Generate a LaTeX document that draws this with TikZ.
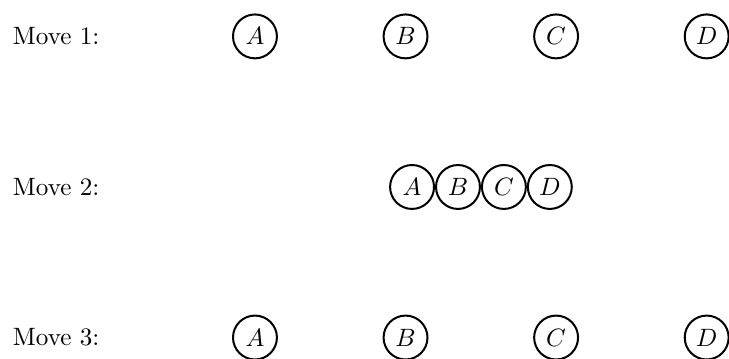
\documentclass[tikz,border=0pt]{standalone}
\usepackage{tikz}
\usetikzlibrary{positioning}
\tikzset{
  ball/.style={circle,draw,thick,minimum size=17.5pt,inner sep=1pt},
  movelbl/.style={anchor=west,inner sep=3.33pt},
}
\begin{document}
\begin{tikzpicture}
  \useasboundingbox (-101.6pt,14.5pt) rectangle (188.9pt,-128.2pt);
  % move 1: spread out
  \node[movelbl] (move1) at (-100pt,0pt) {Move 1:};
  \node[ball] (a1) at (0pt,0pt) {$A$};
  \node[ball] (b1) at (60pt,0pt) {$B$};
  \node[ball] (c1) at (120pt,0pt) {$C$};
  \node[ball] (d1) at (180pt,0pt) {$D$};
  % move 2: all together
  \node[movelbl] (move2) at (-100pt,-60pt) {Move 2:};
  \node[ball] (a2) at (62.6pt,-60pt) {$A$};
  \node[ball,right=0pt of a2] (b2) {$B$};
  \node[ball,right=0pt of b2] (c2) {$C$};
  \node[ball,right=0pt of c2] (d2) {$D$};
  % move 3: spread out again
  \node[movelbl] (move3) at (-100pt,-120pt) {Move 3:};
  \node[ball] (a3) at (0pt,-120pt) {$A$};
  \node[ball] (b3) at (60pt,-120pt) {$B$};
  \node[ball] (c3) at (120pt,-120pt) {$C$};
  \node[ball] (d3) at (180pt,-120pt) {$D$};
\end{tikzpicture}
\end{document}
